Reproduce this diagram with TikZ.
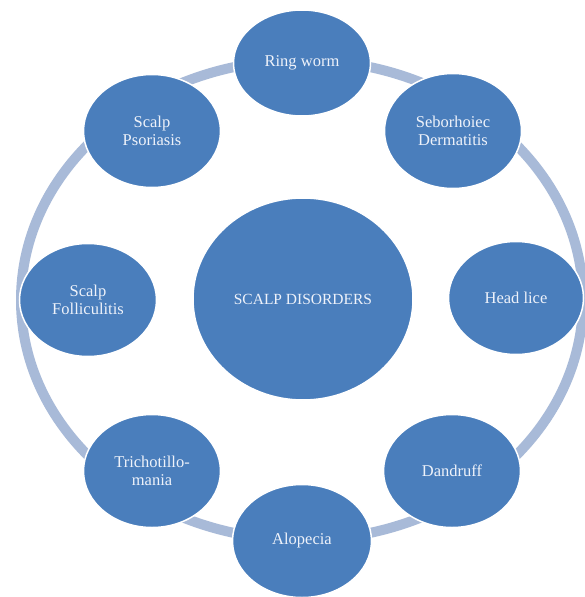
\documentclass[tikz,border=0pt]{standalone}
\usepackage{fontspec}
\setmainfont{Liberation Serif}
\usetikzlibrary{shapes.geometric}
\definecolor{blobfill}{RGB}{74,126,188}
\definecolor{ringcol}{RGB}{168,186,216}
\definecolor{blobtext}{RGB}{238,242,250}
\tikzset{
  blob/.style={ellipse, fill=blobfill, draw=white, line width=1.5pt, inner sep=0pt,
    text=blobtext, align=center, font=\fontsize{16.5}{18.5}\selectfont,
    minimum width=137pt, minimum height=113pt},
  hub/.style={blob, minimum width=220pt, minimum height=202pt,
    font=\fontsize{15.5}{18}\selectfont},
  ringline/.style={draw=ringcol, line width=10pt}
}
\begin{document}
\begin{tikzpicture}[x=1pt,y=-1pt]
\useasboundingbox[fill=white] (0,0) rectangle (584,597);
\coordinate (rc) at (302,300);
\draw[ringline] (rc) ellipse [x radius=281pt, y radius=240pt];
\node[hub] (hub) at (303,299) {SCALP DISORDERS};
\node[blob, minimum height=106pt] (ring) at (302,63) {Ring worm};
\node[blob, minimum height=115pt] (sebo) at (453,131) {Seborhoiec\\Dermatitis};
\node[blob, minimum width=135pt] (lice) at (516,298) {Head lice};
\node[blob] (dand) at (452,471) {Dandruff};
\node[blob, minimum width=139pt] (alop) at (302,541) {Alopecia};
\node[blob] (trich) at (152,471) {Trichotillo-\\mania};
\node[blob] (foll) at (88,300) {Scalp\\Folliculitis};
\node[blob] (psor) at (152,131) {Scalp\\Psoriasis};
\end{tikzpicture}
\end{document}
